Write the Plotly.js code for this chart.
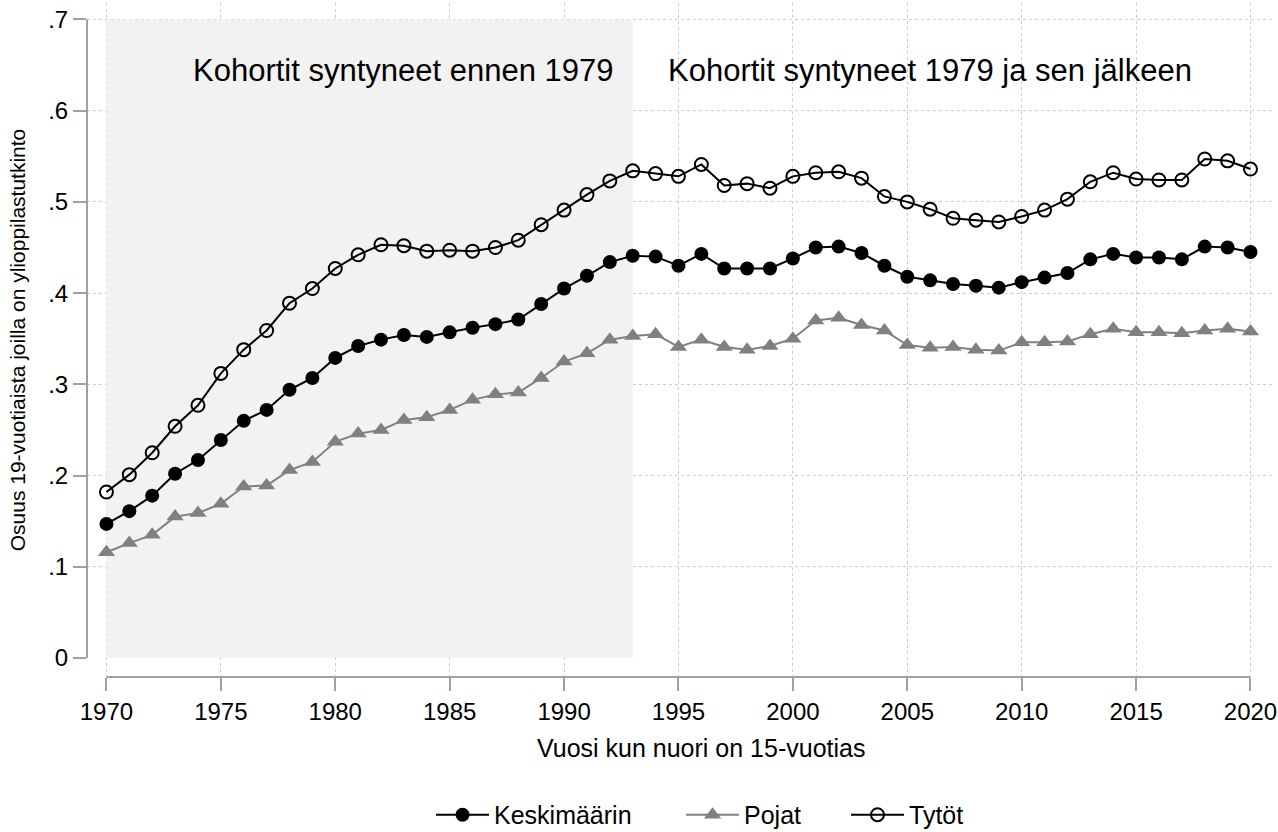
<!DOCTYPE html>
<html>
<head>
<meta charset="utf-8">
<script src="https://cdn.plot.ly/plotly-3.0.1.min.js"></script>
<style>html,body{margin:0;padding:0;background:#fff;}#chart{width:1278px;height:832px;}</style>
</head>
<body>
<div id="chart"></div>
<script>
const years = [];
for (let y = 1970; y <= 2020; y++) years.push(y);

const keskimaarin = [0.147,0.161,0.178,0.202,0.217,0.239,0.260,0.272,0.294,0.307,
  0.329,0.342,0.349,0.354,0.352,0.357,0.362,0.366,0.371,0.388,
  0.405,0.419,0.434,0.441,0.440,0.430,0.443,0.427,0.427,0.427,
  0.438,0.450,0.451,0.444,0.430,0.418,0.414,0.410,0.408,0.406,
  0.412,0.417,0.422,0.437,0.443,0.439,0.439,0.437,0.451,0.450,0.445];

const pojat = [0.116,0.126,0.135,0.155,0.159,0.169,0.188,0.189,0.206,0.215,
  0.237,0.246,0.250,0.261,0.264,0.272,0.283,0.289,0.291,0.307,
  0.325,0.334,0.349,0.353,0.355,0.341,0.349,0.341,0.338,0.342,
  0.350,0.370,0.373,0.365,0.359,0.343,0.340,0.341,0.338,0.337,
  0.346,0.346,0.347,0.355,0.361,0.357,0.357,0.356,0.359,0.361,0.358];

const tytot = [0.182,0.201,0.225,0.254,0.277,0.312,0.338,0.359,0.389,0.405,
  0.427,0.442,0.453,0.452,0.446,0.447,0.446,0.450,0.458,0.475,
  0.491,0.508,0.523,0.534,0.531,0.528,0.541,0.518,0.520,0.515,
  0.528,0.532,0.533,0.526,0.506,0.500,0.492,0.482,0.480,0.478,
  0.484,0.491,0.503,0.522,0.532,0.525,0.524,0.524,0.547,0.545,0.536];

const seriesNames = ['Keskimäärin', 'Pojat', 'Tytöt'];
const xTicks = [1970,1975,1980,1985,1990,1995,2000,2005,2010,2015,2020];
const yTicks = [0,0.1,0.2,0.3,0.4,0.5,0.6,0.7];
const yTickText = ['0','.1','.2','.3','.4','.5','.6','.7'];
const yGridTicks = [0.1,0.2,0.3,0.4,0.5,0.6,0.7];
const shadeStart = 1970, shadeEnd = 1993;
const labelLeft = 'Kohortit syntyneet ennen 1979';
const labelRight = 'Kohortit syntyneet 1979 ja sen jälkeen';
const xTitle = 'Vuosi kun nuori on 15-vuotias';
const yTitle = 'Osuus 19-vuotiaista joilla on ylioppilastutkinto';

const FONT = 'Liberation Sans, Arial, sans-serif';

const traces = [
  {x: years, y: keskimaarin, name: seriesNames[0], type: 'scatter', mode: 'lines+markers', legend: 'legend',
   line: {color: '#000', width: 2}, marker: {symbol: 'circle', size: 14, color: '#000'}},
  {x: years, y: pojat, name: seriesNames[1], type: 'scatter', mode: 'lines+markers', legend: 'legend2',
   line: {color: '#808080', width: 2}, marker: {symbol: 'triangle-up', size: 15, color: '#808080'}},
  {x: years, y: tytot, name: seriesNames[2], type: 'scatter', mode: 'lines+markers', legend: 'legend3',
   line: {color: '#000', width: 2}, marker: {symbol: 'circle-open', size: 13, color: '#000', line: {width: 2, color: '#000'}}},
  {x: [years[0]], y: [null], yaxis: 'y2', showlegend: false, hoverinfo: 'skip', type: 'scatter', mode: 'markers'}
];

function legendAt(xpos) {
  return {orientation: 'h', x: xpos, xanchor: 'left', y: -0.2047, yanchor: 'middle',
    font: {size: 25, family: FONT, color: '#000'}, itemwidth: 53, bgcolor: 'rgba(0,0,0,0)'};
}

const layout = {
  width: 1278, height: 832,
  margin: {l: 87, r: 6, t: 3, b: 155, autoexpand: false},
  paper_bgcolor: '#fff', plot_bgcolor: '#fff',
  font: {family: FONT, color: '#000', size: 20},
  showlegend: true,
  legend: legendAt(0.2903),
  legend2: legendAt(0.5013),
  legend3: legendAt(0.6405),
  xaxis: {range: [1969.15, 2020.94], tickmode: 'array', tickvals: xTicks,
    ticks: 'outside', ticklen: 13, tickwidth: 2, tickcolor: '#a0a0a0',
    showgrid: true, gridcolor: '#cccccc', griddash: 'dot', gridwidth: 1,
    zeroline: false, showline: false, tickfont: {size: 24}},
  yaxis: {range: [-0.0208, 0.718], tickmode: 'array', tickvals: yTicks, ticktext: yTickText,
    ticks: 'outside', ticklen: 13, tickwidth: 2, tickcolor: '#a0a0a0',
    showgrid: false, zeroline: false, showline: false, tickfont: {size: 24},
    title: {text: yTitle, font: {size: 21}, standoff: 16}},
  yaxis2: {overlaying: 'y', matches: 'y', tickmode: 'array', tickvals: yGridTicks,
    showticklabels: false, ticks: '', showgrid: true, gridcolor: '#cccccc', griddash: 'dot',
    gridwidth: 1, zeroline: false, showline: false},
  shapes: [
    {type: 'rect', xref: 'x', yref: 'y', x0: shadeStart, x1: shadeEnd, y0: yTicks[0], y1: yTicks[yTicks.length-1],
     fillcolor: '#f2f2f2', line: {width: 0}, layer: 'between'},
    {type: 'line', xref: 'paper', yref: 'y', x0: 0, x1: 0, y0: yTicks[0], y1: yTicks[yTicks.length-1],
     line: {color: '#a0a0a0', width: 2}, layer: 'above'},
    {type: 'line', xref: 'x', yref: 'paper', x0: xTicks[0], x1: xTicks[xTicks.length-1], y0: 0, y1: 0,
     line: {color: '#a0a0a0', width: 2}, layer: 'above'}
  ],
  annotations: [
    {text: labelLeft, xref: 'x', yref: 'y', x: 1983, y: 0.644, showarrow: false,
     font: {size: 31, family: FONT, color: '#000'}, xanchor: 'center', yanchor: 'middle'},
    {text: labelRight, xref: 'x', yref: 'y', x: 2006, y: 0.644, showarrow: false,
     font: {size: 31, family: FONT, color: '#000'}, xanchor: 'center', yanchor: 'middle'},
    {text: xTitle, xref: 'paper', yref: 'paper', x: 0.518, y: -0.105, showarrow: false,
     font: {size: 25, family: FONT, color: '#000'}, xanchor: 'center', yanchor: 'middle'}
  ]
};

Plotly.newPlot('chart', traces, layout, {displayModeBar: false, staticPlot: true});
</script>
</body>
</html>
